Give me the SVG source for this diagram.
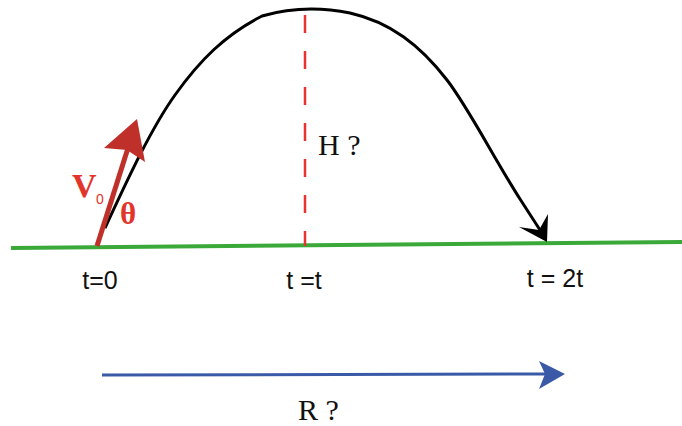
<svg xmlns="http://www.w3.org/2000/svg" width="682" height="426" viewBox="0 0 682 426">
<style>
.lbl{font-family:"Liberation Sans",Arial,sans-serif;font-size:25px;fill:#111}
.ser{font-family:"Liberation Serif","Times New Roman",serif;font-size:30px;fill:#111}
.red{fill:#e2342a;font-family:"Liberation Serif","Times New Roman",serif;font-weight:bold}
</style>
<rect width="682" height="426" fill="#fff"/>
<g id="ground">
<line x1="11" y1="248" x2="682" y2="242" stroke="#3aa93a" stroke-width="4"/>
</g>
<g id="connectors">
<path id="trajectory" d="M105,228 C125,185 150,130 175,95 C200,60 225,35 262,16 C290,8 320,7 350,13 C390,22 420,45 447,80 C468,107 495,160 520,199 L540,230" fill="none" stroke="#000" stroke-width="3"/>
<path d="M547,242 L519,227 L539,230 L548,214 Z" fill="#000"/>
<line id="height" x1="305" y1="15" x2="305" y2="246" stroke="#e8342c" stroke-width="2.5" stroke-dasharray="18 18"/>
<g id="velocity">
<line x1="97" y1="246" x2="128" y2="148" stroke="#c0302a" stroke-width="5"/>
<path d="M137,119 L104,148 L127,150 L145,162 Z" fill="#c0302a"/>
</g>
<g id="range">
<line x1="102" y1="375" x2="546" y2="374" stroke="#3a5aa8" stroke-width="3"/>
<path d="M565,374 L539,361 L545,374 L539,389 Z" fill="#3a5aa8"/>
</g>
</g>
<g id="labels">
<text class="red" x="72" y="197" font-size="34">V</text>
<text x="96" y="204" font-family="'Liberation Sans',Arial,sans-serif" font-size="14" fill="#e2342a">0</text>
<text class="red" x="120" y="224" font-size="31">θ</text>
<text class="ser" x="318" y="155">H ?</text>
<text class="ser" x="298" y="420">R ?</text>
<text class="lbl" x="100" y="289" text-anchor="middle">t=0</text>
<text class="lbl" x="304" y="289" text-anchor="middle">t =t</text>
<text class="lbl" x="555" y="287" text-anchor="middle">t = 2t</text>
</g>
</svg>
